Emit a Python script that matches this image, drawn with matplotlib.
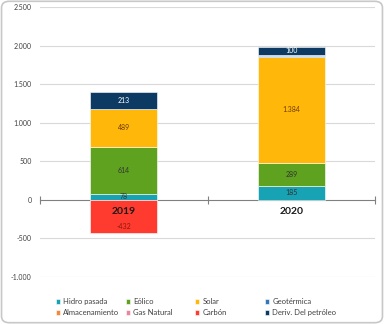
import matplotlib.pyplot as plt
import numpy as np
from matplotlib.patches import FancyBboxPatch

plt.rcParams['font.family'] = ['Lato', 'DejaVu Sans']

years = ['2019', '2020']
series = ['Hidro pasada', 'Eólico', 'Solar', 'Geotérmica',
          'Almacenamiento', 'Gas Natural', 'Carbón', 'Deriv. Del petróleo']
colors = ['#18A3B4', '#5EA220', '#FFB80A', '#3377B5',
          '#F08A3C', '#E8869E', '#FF3A2E', '#0C3A63']
hidro = [78, 185]
eolico = [614, 289]
solar = [489, 1384]
geotermica = [0, 25]
almacenamiento = [0, 0]
gas_natural = [0, 0]
carbon = [-432, 0]
deriv = [213, 100]
values = [hidro, eolico, solar, geotermica, almacenamiento, gas_natural, carbon, deriv]
label_colors = ['#333333', '#333333', '#6b3a00', '#333333',
                '#333333', '#333333', '#8b1a10', 'white']

fig = plt.figure(figsize=(3.84, 3.24), dpi=100)
fig.patches.append(FancyBboxPatch((0.004, 0.004), 0.992, 0.992,
                                  boxstyle='round,pad=0,rounding_size=0.02',
                                  transform=fig.transFigure, fill=False,
                                  edgecolor='#c8c8c8', linewidth=1.2))
ax = fig.add_axes([0.104, 0.145, 0.873, 0.833])

x = np.arange(len(years))
pos_bottom = np.zeros(len(years))
neg_bottom = np.zeros(len(years))
handles = []
for name, vals, col, lc in zip(series, values, colors, label_colors):
    vals = np.array(vals, dtype=float)
    bottom = np.where(vals >= 0, pos_bottom, neg_bottom)
    lw = 1.8 if (vals < 0).any() else 0.4
    bars = ax.bar(x, vals, 0.4, bottom=bottom, color=col, label=name,
                  edgecolor='white', linewidth=lw, zorder=2)
    handles.append(bars)
    for xi, v, b in zip(x, vals, bottom):
        if abs(v) >= 50:
            txt = f'{v:,.0f}'.replace(',', '.')
            # negative labels sit lower, below the category label
            yy = b + v / 2 if v > 0 else b + v * 0.8
            ax.text(xi, yy, txt, ha='center', va='center',
                    fontsize=5, color=lc, zorder=3)
    pos_bottom += np.where(vals >= 0, vals, 0)
    neg_bottom += np.where(vals < 0, vals, 0)
handles[6].patches[0].set_linewidth(0.4)

# gridlines
for yv in range(-1000, 2501, 500):
    if yv != 0:
        ax.axhline(yv, color='#d9d9d9', linewidth=0.8, zorder=0)

ax.set_xlim(-0.5, 1.5)
ax.set_ylim(-1000, 2500)
ax.set_yticks(range(-1000, 2501, 500))
ax.set_yticklabels([f'{v:,}'.replace(',', '.') for v in range(-1000, 2501, 500)],
                   fontsize=5, color='#404040')
ax.tick_params(axis='y', length=0, pad=6)

for s in ['top', 'right', 'left']:
    ax.spines[s].set_visible(False)
ax.spines['bottom'].set_position(('data', 0))
ax.spines['bottom'].set_color('#808080')
ax.spines['bottom'].set_linewidth(0.8)
ax.spines['bottom'].set_zorder(1)
ax.set_xticks(x)
ax.set_xticklabels([])
ax.set_xticks([-0.5, 0.5, 1.5], minor=True)
ax.tick_params(axis='x', which='major', length=0)
ax.tick_params(axis='x', which='minor', length=6, direction='inout',
               color='#808080', width=0.8)
for xi, yr in zip(x, years):
    ax.text(xi, -150, yr, ha='center', va='center', fontsize=7.5,
            fontweight='bold', color='#1a1a1a', zorder=4)

# legend: four equal-width columns, two rows each
col_x = [52, 122, 191, 261]
for c, cx in enumerate(col_x):
    idx = [c, c + 4]
    leg = fig.legend([handles[i] for i in idx], [series[i] for i in idx],
                     loc='center left', bbox_to_anchor=(cx / 384, 0.052),
                     ncol=1, fontsize=5.5, frameon=False,
                     handlelength=0.6, handleheight=0.6,
                     handletextpad=0.4, labelspacing=0.55, borderpad=0)
    for t in leg.get_texts():
        t.set_color('#404040')

fig.savefig('out.png', dpi=100)
